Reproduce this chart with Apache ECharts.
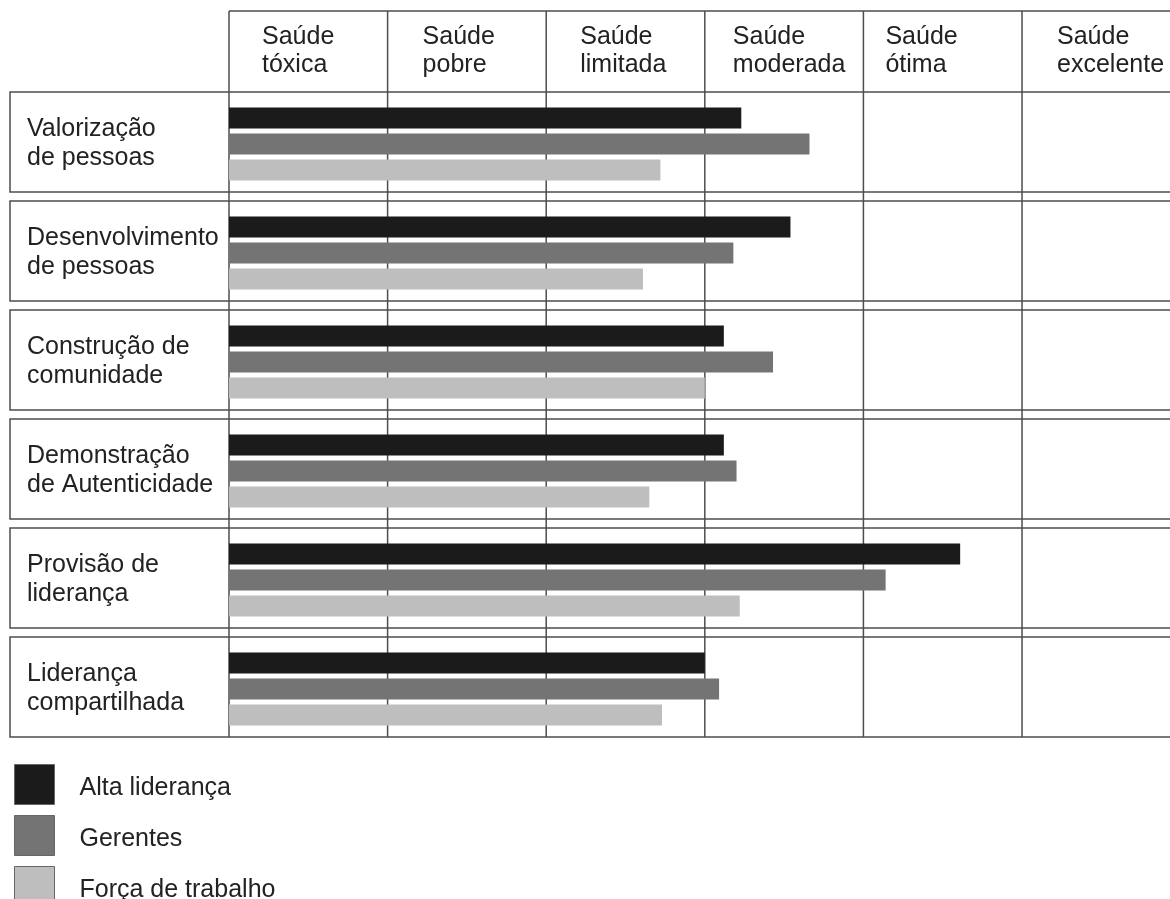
<!DOCTYPE html>
<html>
<head>
<meta charset="utf-8">
<script src="https://cdn.jsdelivr.net/npm/echarts@6/dist/echarts.min.js"></script>
<style>
  html, body { margin: 0; padding: 0; background: #fff; }
  #chart { width: 1170px; height: 899px; }
</style>
</head>
<body>
<div id="chart"></div>
<script>
// categorias (linhas) e níveis de saúde (colunas)
const categories = [
  "Valorização\nde pessoas",
  "Desenvolvimento\nde pessoas",
  "Construção de\ncomunidade",
  "Demonstração\nde Autenticidade",
  "Provisão de\nliderança",
  "Liderança\ncompartilhada",
];
const levels = [
  "Saúde\ntóxica",
  "Saúde\npobre",
  "Saúde\nlimitada",
  "Saúde\nmoderada",
  "Saúde\nótima",
  "Saúde\nexcelente",
];
const seriesNames = ["Alta liderança", "Gerentes", "Força de trabalho"];
const altaLideranca = [3.23, 3.54, 3.12, 3.12, 4.61, 3.0];
const gerentes = [3.66, 3.18, 3.43, 3.2, 4.14, 3.09];
const forcaTrabalho = [2.72, 2.61, 3.0, 2.65, 3.22, 2.73];

const colors = ["#1b1b1b", "#747474", "#bebebe"];
const lineColor = "#4d4d4d";
const font = "Liberation Sans, Arial, sans-serif";
const headerPad = [33, 35, 34, 28, 22, 35];

const chart = echarts.init(document.getElementById("chart"));

const option = {
  animation: false,
  color: colors,
  grid: { left: 229, top: 89.5, right: 0, height: 654, containLabel: false },
  xAxis: {
    type: "value",
    min: 0,
    max: 5.933, // a última coluna ("excelente") é cortada na borda direita
    interval: 1,
    axisLine: { show: false },
    axisTick: { show: false },
    axisLabel: { show: false },
    splitLine: { show: false },
  },
  yAxis: {
    type: "category",
    inverse: true,
    data: categories,
    axisLine: { show: false },
    axisTick: { show: false },
    axisLabel: {
      align: "left",
      margin: 202,
      fontSize: 25,
      lineHeight: 29,
      color: "#222",
      fontFamily: font,
    },
  },
  legend: {
    orient: "vertical",
    left: 14,
    top: 764,
    height: 160,
    padding: 0,
    itemWidth: 40,
    itemHeight: 40,
    itemGap: 10,
    icon: "rect",
    data: seriesNames,
    itemStyle: { borderColor: "#666", borderWidth: 1 },
    formatter: "{t|{name}}",
    textStyle: {
      fontSize: 25,
      color: "#222",
      fontFamily: font,
      rich: { t: { fontSize: 25, fontFamily: font, color: "#222", padding: [8, 0, 0, 20] } },
    },
  },
  series: [
    { name: seriesNames[0], type: "bar", data: altaLideranca },
    { name: seriesNames[1], type: "bar", data: gerentes },
    { name: seriesNames[2], type: "bar", data: forcaTrabalho },
  ].map((s) => ({ ...s, barWidth: 21, barGap: "24%", z: 3 })),
};
chart.setOption(option);

// tabela: linhas verticais, cabeçalho e caixas das linhas
function drawTable() {
  const elements = [];
  const xs = levels.map((l, i) => chart.convertToPixel({ xAxisIndex: 0 }, i));
  const ys = categories.map((c, i) => chart.convertToPixel({ yAxisIndex: 0 }, i));
  const top = 11;
  const bottom = ys[ys.length - 1] + 48;
  const stroke = { stroke: lineColor, lineWidth: 1.5, fill: null };

  xs.forEach((x) => {
    elements.push({ type: "line", z: 0, shape: { x1: x, y1: top, x2: x, y2: bottom }, style: stroke });
  });
  elements.push({ type: "line", z: 0, shape: { x1: xs[0], y1: top, x2: 1180, y2: top }, style: stroke });
  ys.forEach((y) => {
    elements.push({ type: "rect", z: 0, shape: { x: 10, y: y - 52, width: 1180, height: 100 }, style: stroke });
  });
  levels.forEach((l, i) => {
    elements.push({
      type: "text",
      z: 1,
      x: xs[i] + headerPad[i],
      y: 23.5,
      style: { text: l, fontSize: 25, lineHeight: 28, fontFamily: font, fill: "#222", verticalAlign: "top" },
    });
  });
  chart.setOption({ graphic: elements });
}
drawTable();
</script>
</body>
</html>
